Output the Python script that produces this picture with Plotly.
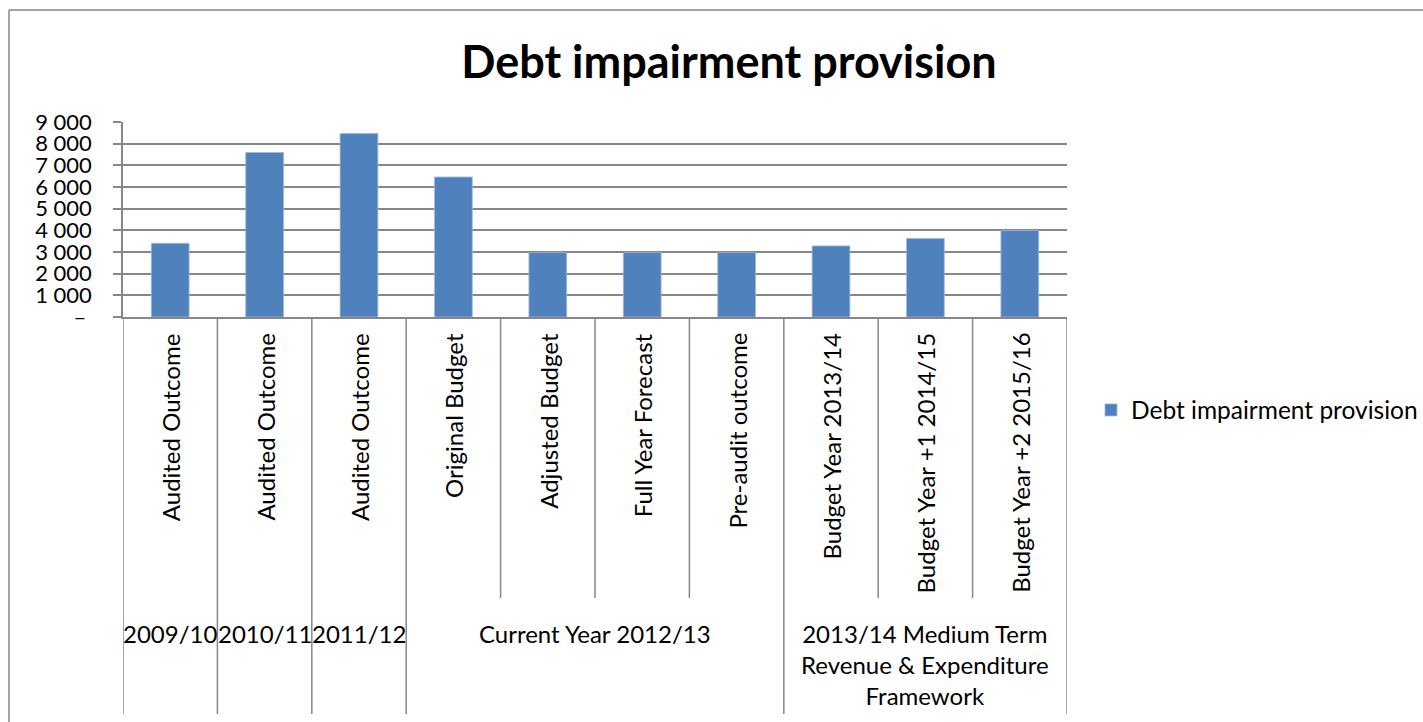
import plotly.graph_objects as go

# ---- data ----
categories = [
    "Audited Outcome", "Audited Outcome", "Audited Outcome",
    "Original Budget", "Adjusted Budget", "Full Year Forecast", "Pre-audit outcome",
    "Budget Year 2013/14", "Budget Year +1 2014/15", "Budget Year +2 2015/16",
]
groups = [
    "2009/10", "2010/11", "2011/12",
    "Current Year 2012/13",
    "2013/14 Medium Term<br>Revenue & Expenditure<br>Framework",
]
group_sizes = [1, 1, 1, 4, 3]
values = [3400, 7590, 8470, 6460, 2970, 2970, 2970, 3280, 3620, 3990]
series_name = "Debt impairment provision"
y_ticks = list(range(0, 9001, 1000))
y_ticktext = ["–\u00a0" if v == 0 else f"{v:,}".replace(",", " ") for v in y_ticks]

# ---- layout geometry (pixels) ----
W, H = 1423, 722
ML, MR, MT, MB = 123, 356, 122, 405
PW, PH = W - ML - MR, H - MT - MB


def px_x(px):
    return (px - ML) / PW


def px_y(py):
    return (MT + PH - py) / PH


FONT = "Lato, 'Open Sans', sans-serif"
GRID = "#878787"
BAR = "#4F81BD"

xs = list(range(len(categories)))

fig = go.Figure(
    go.Bar(
        x=xs,
        y=values,
        name=series_name,
        marker=dict(color=BAR, line=dict(color="#9DB9DE", width=0.8)),
        showlegend=True,
    )
)

shapes = []
annotations = []

# category labels, rotated
for i, name in enumerate(categories):
    annotations.append(dict(
        x=i, y=0, xref="x", yref="y", text=name, textangle=-90,
        showarrow=False, xanchor="center", yanchor="top", yshift=-14,
        font=dict(family=FONT, size=24, color="#000000"),
    ))

# group labels and divider lines
inner_bottom = px_y(598)
outer_bottom = px_y(714)
start = 0
boundaries = {-0.5: outer_bottom}
for label, size in zip(groups, group_sizes):
    end = start + size
    center = (start + end - 1) / 2
    annotations.append(dict(
        x=center, y=px_y(617), xref="x", yref="paper", text=label,
        showarrow=False, xanchor="center", yanchor="top",
        font=dict(family=FONT, size=24, color="#000000"),
    ))
    for k in range(start + 1, end):
        boundaries[k - 0.5] = inner_bottom
    boundaries[end - 0.5] = outer_bottom
    start = end

for xb, yb in boundaries.items():
    shapes.append(dict(
        type="line", xref="x", yref="paper", x0=xb, x1=xb, y0=0, y1=yb,
        line=dict(color=GRID, width=1.5),
    ))

# outer chart frame
shapes.append(dict(type="line", xref="paper", yref="paper",
                   x0=px_x(9), x1=px_x(W + 5), y0=px_y(10), y1=px_y(10),
                   line=dict(color=GRID, width=1.5)))
shapes.append(dict(type="line", xref="paper", yref="paper",
                   x0=px_x(9), x1=px_x(9), y0=px_y(10), y1=px_y(H + 5),
                   line=dict(color=GRID, width=1.5)))

fig.update_layout(
    width=W, height=H,
    margin=dict(l=ML, r=MR, t=MT, b=MB, pad=0, autoexpand=False),
    paper_bgcolor="white", plot_bgcolor="white",
    bargap=0.6,
    font=dict(family=FONT, size=24, color="#000000"),
    title=dict(
        text="<b>Debt impairment provision</b>",
        x=729 / W, xanchor="center", xref="container",
        y=1 - 62 / H, yanchor="middle", yref="container",
        font=dict(family=FONT, size=45, color="#000000"),
    ),
    xaxis=dict(
        range=[-0.5, len(categories) - 0.5],
        showticklabels=False, showgrid=False, zeroline=False,
        showline=True, linecolor=GRID, linewidth=1.5, ticks="",
        fixedrange=True,
    ),
    yaxis=dict(
        range=[0, 9000],
        tickvals=y_ticks, ticktext=y_ticktext,
        showgrid=True, gridcolor=GRID, gridwidth=1.5,
        zeroline=False,
        showline=True, linecolor=GRID, linewidth=1.5,
        ticks="outside", ticklen=8, tickcolor=GRID, tickwidth=1.5,
        ticklabelstandoff=17,
        tickfont=dict(family=FONT, size=22, color="#000000"),
        fixedrange=True,
    ),
    legend=dict(
        x=px_x(1091), y=px_y(410), xanchor="left", yanchor="middle",
        xref="paper", yref="paper",
        font=dict(family=FONT, size=24.5, color="#000000"),
        bgcolor="rgba(0,0,0,0)", itemwidth=30,
    ),
    shapes=shapes,
    annotations=annotations,
)

fig.write_html("out.html")
